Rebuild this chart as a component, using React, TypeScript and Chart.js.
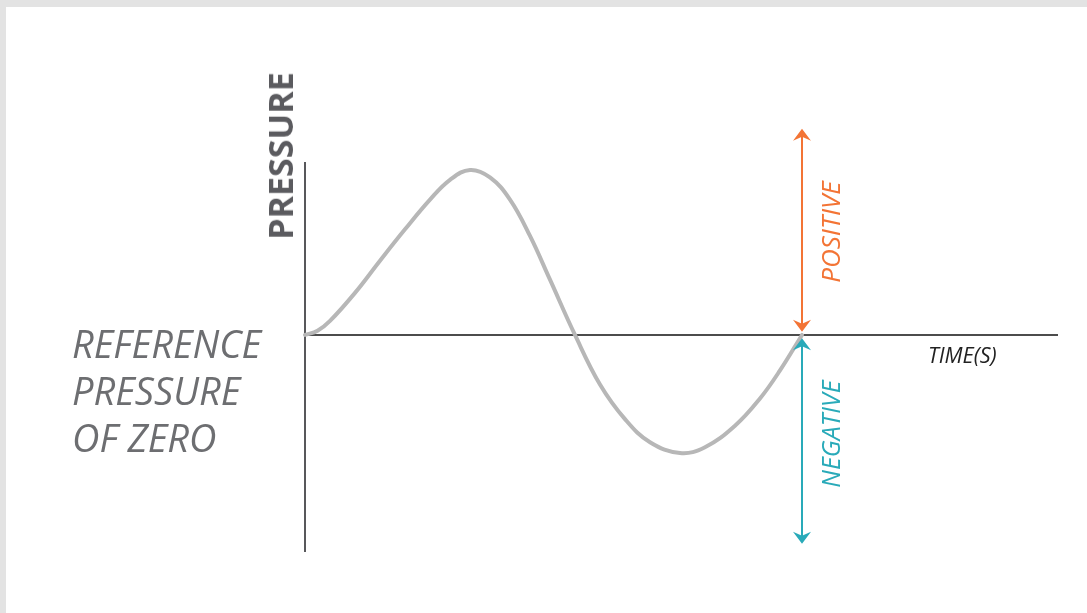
import React, { useEffect, useRef } from "react";
import { Chart, registerables } from "chart.js";

Chart.register(...registerables);

// ---- data ----
const timeValues = [0, 0.125, 0.25, 0.5, 0.75, 1.0, 1.25, 1.45, 1.65, 1.85, 2.05, 2.25, 2.45, 2.7, 2.95, 3.2, 3.45, 3.75, 4.0, 4.3, 4.55, 4.75, 4.97];
const pressureValues = [0, 0.025, 0.085, 0.255, 0.45, 0.64, 0.82, 0.94, 1.0, 0.955, 0.82, 0.6, 0.335, 0, -0.3, -0.51, -0.65, -0.715, -0.68, -0.55, -0.385, -0.215, 0];
const xRange = [0, 7.53];
const yRange = [-1.315, 1.048];
const positiveArrow = [0.02, 1.25]; // at last time value
const negativeArrow = [-0.02, -1.265];

const FONT = "'Open Sans', 'DejaVu Sans', sans-serif";
const ORANGE = "#f37435";
const TEAL = "#29aab9";

function drawHead(ctx: CanvasRenderingContext2D, x: number, tipY: number, s: number, color: string) {
  ctx.fillStyle = color;
  ctx.beginPath();
  ctx.moveTo(x, tipY);
  ctx.lineTo(x - 9, tipY + s * 12);
  ctx.lineTo(x, tipY + s * 8);
  ctx.lineTo(x + 9, tipY + s * 12);
  ctx.closePath();
  ctx.fill();
}

function drawArrow(ctx: CanvasRenderingContext2D, x: number, y1: number, y2: number, color: string) {
  const top = Math.min(y1, y2);
  const bot = Math.max(y1, y2);
  ctx.strokeStyle = color;
  ctx.lineWidth = 2;
  ctx.beginPath();
  ctx.moveTo(x, top + 6);
  ctx.lineTo(x, bot - 6);
  ctx.stroke();
  drawHead(ctx, x, top, 1, color);
  drawHead(ctx, x, bot, -1, color);
}

const overlayPlugin = {
  id: "overlay",
  beforeDatasetsDraw(chart: any) {
    const { ctx, chartArea, scales } = chart;
    const xs = scales.x;
    const ys = scales.y;
    const x0 = xs.getPixelForValue(0);
    const y0 = ys.getPixelForValue(0);
    ctx.save();
    ctx.strokeStyle = "#58585b";
    ctx.lineWidth = 2;
    ctx.beginPath();
    ctx.moveTo(x0, chartArea.top);
    ctx.lineTo(x0, chartArea.bottom);
    ctx.stroke();
    ctx.strokeStyle = "#111111";
    ctx.lineWidth = 1.5;
    ctx.beginPath();
    ctx.moveTo(x0, y0);
    ctx.lineTo(chartArea.right, y0);
    ctx.stroke();
    ctx.restore();
  },
  afterDatasetsDraw(chart: any) {
    const { ctx, scales } = chart;
    const xs = scales.x;
    const ys = scales.y;
    const ax = Math.round(xs.getPixelForValue(timeValues[timeValues.length - 1]));
    ctx.save();
    drawArrow(ctx, ax, ys.getPixelForValue(positiveArrow[1]), ys.getPixelForValue(positiveArrow[0]), ORANGE);
    drawArrow(ctx, ax, ys.getPixelForValue(negativeArrow[0]), ys.getPixelForValue(negativeArrow[1]), TEAL);
    ctx.restore();
  },
};

export default function App() {
  const ref = useRef<HTMLCanvasElement | null>(null);

  useEffect(() => {
    if (!ref.current) return;
    const chart = new Chart(ref.current, {
      type: "line",
      data: {
        datasets: [
          {
            data: timeValues.map((t, i) => ({ x: t, y: pressureValues[i] })),
            borderColor: "#b7b7b7",
            borderWidth: 4,
            pointRadius: 0,
            fill: false,
            tension: 0.4,
            borderCapStyle: "round",
            borderJoinStyle: "round",
            clip: 10,
          },
        ],
      },
      options: {
        animation: false,
        responsive: false,
        layout: { padding: { left: 305, right: 29, top: 162, bottom: 61 } },
        plugins: { legend: { display: false }, tooltip: { enabled: false }, title: { display: false } },
        scales: {
          x: { type: "linear", min: xRange[0], max: xRange[1], display: false },
          y: { type: "linear", min: yRange[0], max: yRange[1], display: false },
        },
      },
      plugins: [overlayPlugin],
    } as any);
    return () => chart.destroy();
  }, []);

  const rot = (cx: number, cy: number): React.CSSProperties => ({
    position: "absolute",
    left: cx,
    top: cy,
    transform: "translate(-50%, -50%) rotate(-90deg)",
    whiteSpace: "nowrap",
    lineHeight: 1,
  });

  return (
    <div style={{ position: "fixed", left: 0, top: 0, width: 1087, height: 613, background: "#e3e3e3", overflow: "hidden", fontFamily: FONT }}>
      <div style={{ position: "absolute", left: 6, top: 7, right: 0, bottom: 0, background: "#ffffff" }} />
      <canvas ref={ref} width={1087} height={613} style={{ position: "absolute", left: 0, top: 0, display: "block" }} />
      <div style={{ ...rot(280, 156), fontSize: 34, fontWeight: 700, color: "#5b5b5f" }}>PRESSURE</div>
      <div style={{ ...rot(830, 232), fontSize: 26, fontStyle: "italic", color: ORANGE }}>POSITIVE</div>
      <div style={{ ...rot(830, 434), fontSize: 25, fontStyle: "italic", color: TEAL }}>NEGATIVE</div>
      <div style={{ position: "absolute", left: 72, top: 320, fontSize: 38, lineHeight: "47px", fontStyle: "italic", color: "#6d6e71" }}>
        <div>REFERENCE</div>
        <div>PRESSURE</div>
        <div>OF ZERO</div>
      </div>
      <div style={{ position: "absolute", left: 928, top: 344, fontSize: 21.5, lineHeight: 1, fontStyle: "italic", color: "#222222" }}>TIME(S)</div>
    </div>
  );
}
